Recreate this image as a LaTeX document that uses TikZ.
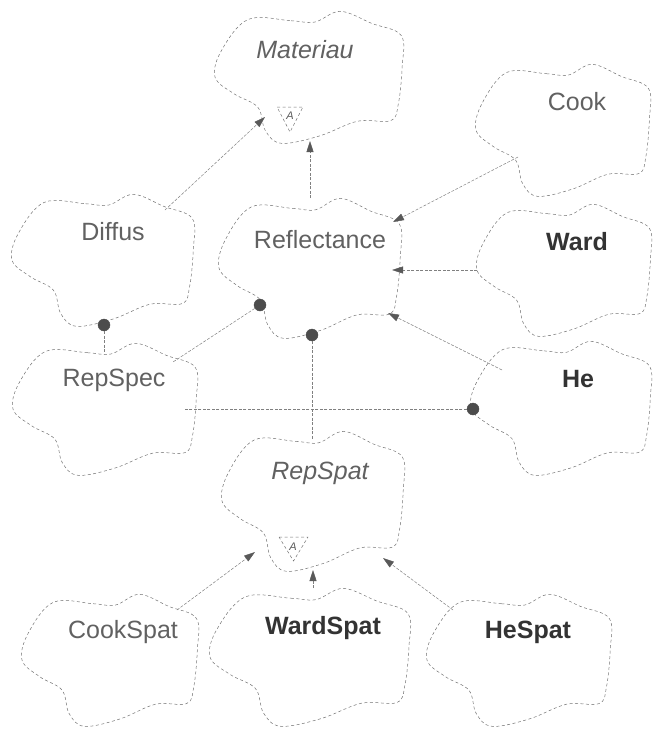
\documentclass[tikz,border=0pt]{standalone}
\usepackage{fontspec}
\setmainfont{Liberation Sans}
\usetikzlibrary{arrows.meta,calc}
\tikzset{
  cloudline/.style={draw=black!55, line width=0.5pt, dash pattern=on 3pt off 2.5pt},
  conn/.style={draw=black!50, line width=0.5pt, dash pattern=on 3pt off 1.5pt},
  inh/.style={conn, -{Triangle[length=11pt,width=7pt,color=black!65,fill=black!65]}},
  hasdot/.style={circle, fill=black!70, draw=black!70, inner sep=0pt, minimum size=12pt},
  clsname/.style={text=black!62, inner sep=0pt, font=\fontsize{25}{30}\selectfont},
  clsbold/.style={clsname, text=black!80, font=\fontsize{25}{30}\selectfont\bfseries},
  clsital/.style={clsname, font=\fontsize{25}{30}\selectfont\itshape},
  center point/.style={inner sep=0pt, minimum size=0pt},
  abstractmark/.style={text=black!65, inner sep=0pt, font=\fontsize{11}{12}\selectfont\itshape},
}
\newcommand\boochcloud[5]{%
  \node[center point] (#1) at (#2,#3) {};
  \begin{scope}[shift={(#2,#3)}, x=#4pt, y=-#5pt]
    \draw[cloudline] plot[smooth cycle, tension=0.6] coordinates {
      (-0.65,-0.86) (-0.2,-0.84) (0.05,-0.82) (0.32,-0.98) (0.65,-0.8)
      (0.96,-0.62) (0.97,-0.15) (0.93,0.4) (0.85,0.65) (0.5,0.66)
      (0.1,0.88) (-0.3,0.99) (-0.47,0.8) (-0.55,0.45) (-0.8,0.25)
      (-1,0) (-0.93,-0.4)};
  \end{scope}
}
\begin{document}
\begin{tikzpicture}[x=1pt, y=-1pt]
\useasboundingbox (0,0) rectangle (656,731);

% clouds
\boochcloud{mat}{310}{77}{95}{67}
\boochcloud{cook}{564}{130}{88}{67}
\boochcloud{diffus}{104}{260}{92}{67}
\boochcloud{refl}{311}{268}{92}{71}
\boochcloud{ward}{565}{270}{88}{67}
\boochcloud{repspec}{106}{409}{93}{67}
\boochcloud{he}{562}{408}{91}{68}
\boochcloud{repspat}{314}{501}{92}{71}
\boochcloud{cookspat}{111}{660}{89}{67}
\boochcloud{wardspat}{311}{657}{101}{70}
\boochcloud{hespat}{520}{660}{93}{67}

% names
\node[clsital] (mat-t) at ($(mat)+(-5,-27)$) {Materiau};
\node[clsname] (cook-t) at ($(cook)+(13,-28)$) {Cook};
\node[clsname] (diffus-t) at ($(diffus)+(9,-28)$) {Diffus};
\node[clsname] (refl-t) at ($(refl)+(9,-28)$) {Reflectance};
\node[clsbold] (ward-t) at ($(ward)+(12,-28)$) {Ward};
\node[clsname] (repspec-t) at ($(repspec)+(8,-29)$) {RepSpec};
\node[clsbold] (he-t) at ($(he)+(16,-29)$) {He};
\node[clsital] (repspat-t) at ($(repspat)+(6,-28)$) {RepSpat};
\node[clsname] (cookspat-t) at ($(cookspat)+(12,-28)$) {CookSpat};
\node[clsbold] (wardspat-t) at ($(wardspat)+(12,-29)$) {WardSpat};
\node[clsbold] (hespat-t) at ($(hespat)+(8,-28)$) {HeSpat};

% abstract markers
\draw[cloudline] ($(mat)+(-33,30)$) -- ++(26,0) -- ++(-13,25) -- cycle;
\node[abstractmark] (mat-a) at ($(mat)+(-20,39)$) {A};
\draw[cloudline] ($(repspat)+(-35,36)$) -- ++(29,0) -- ++(-14.5,24) -- cycle;
\node[abstractmark] (repspat-a) at ($(repspat)+(-21,46)$) {A};

% inheritance
\draw[inh] ($(diffus)+(61,-50)$) -- ($(mat)+(-45,40)$);
\draw[inh] ($(refl)+(-1,-70)$) -- ($(mat)+(0,64)$);
\draw[inh] ($(cook)+(-46,27)$) -- ($(refl)+(82,-46)$);
\draw[inh] ($(ward)+(-88,0)$) -- ($(refl)+(81,2)$);
\draw[inh] ($(he)+(-60,-38)$) -- ($(refl)+(77,45)$);
\draw[inh] ($(cookspat)+(66,-50)$) -- ($(repspat)+(-59,51)$);
\draw[inh] ($(wardspat)+(2,-69)$) -- ($(repspat)+(-1,69)$);
\draw[inh] ($(hespat)+(-67,-50)$) -- ($(repspat)+(69,57)$);

% has relations
\node[hasdot] (dot-diffus) at ($(diffus)+(0,65)$) {};
\draw[conn] (dot-diffus) -- ($(repspec)+(-2,-57)$);
\node[hasdot] (dot-refl1) at ($(refl)+(-51,37)$) {};
\draw[conn] (dot-refl1) -- ($(repspec)+(67,-47)$);
\node[hasdot] (dot-refl2) at ($(refl)+(1,67)$) {};
\draw[conn] (dot-refl2) -- ($(repspat)+(-2,-61)$);
\node[hasdot] (dot-he) at ($(he)+(-89,1)$) {};
\draw[conn] (dot-he) -- ($(repspec)+(79,0)$);
\end{tikzpicture}
\end{document}
